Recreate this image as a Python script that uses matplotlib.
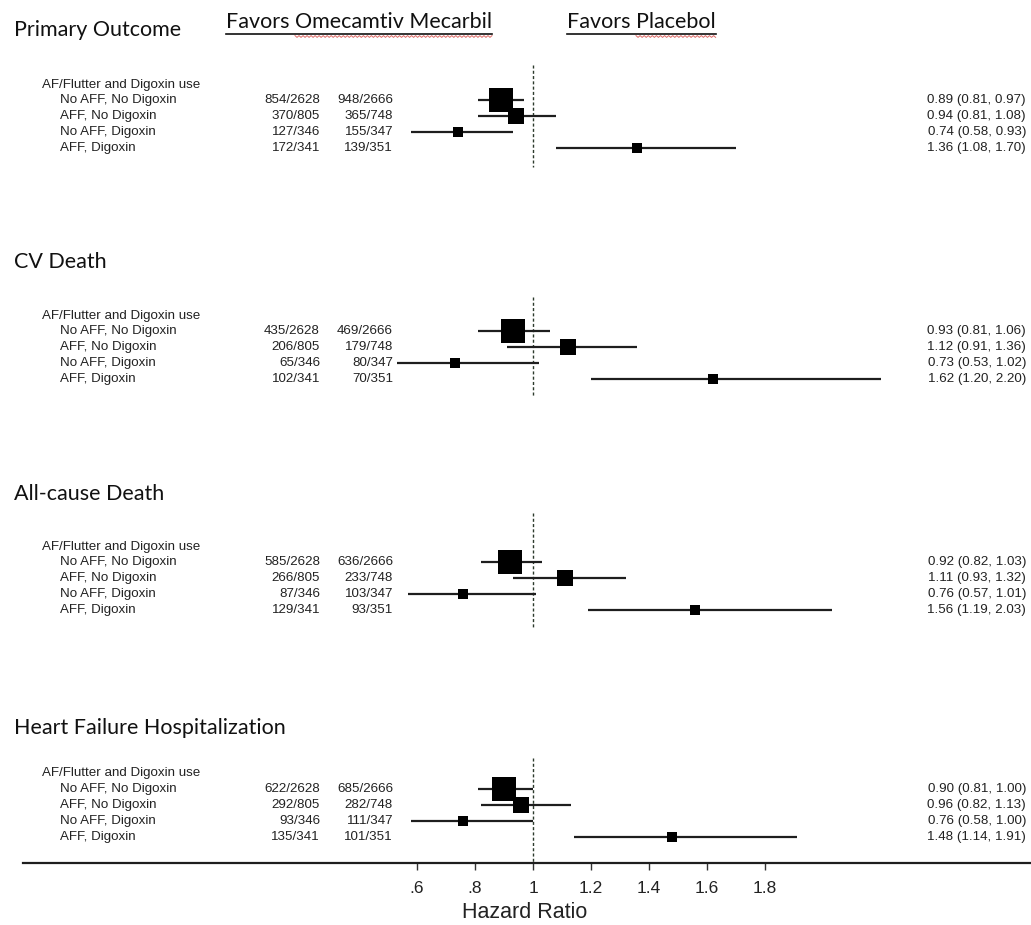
import numpy as np
import matplotlib
matplotlib.use("Agg")
import matplotlib.pyplot as plt
from matplotlib import transforms

# outcomes and AF/flutter x digoxin subgroups
outcomes = ["Primary Outcome", "CV Death", "All-cause Death", "Heart Failure Hospitalization"]
subgroups = ["No AFF, No Digoxin", "AFF, No Digoxin", "No AFF, Digoxin", "AFF, Digoxin"]
header = "AF/Flutter and Digoxin use"

n_om = [2628, 805, 346, 341]
n_pl = [2666, 748, 347, 351]

events_om = [
    [854, 370, 127, 172],
    [435, 206, 65, 102],
    [585, 266, 87, 129],
    [622, 292, 93, 135],
]
events_pl = [
    [948, 365, 155, 139],
    [469, 179, 80, 70],
    [636, 233, 103, 93],
    [685, 282, 111, 101],
]

hr = [
    [0.89, 0.94, 0.74, 1.36],
    [0.93, 1.12, 0.73, 1.62],
    [0.92, 1.11, 0.76, 1.56],
    [0.90, 0.96, 0.76, 1.48],
]
hr_lo = [
    [0.81, 0.81, 0.58, 1.08],
    [0.81, 0.91, 0.53, 1.20],
    [0.82, 0.93, 0.57, 1.19],
    [0.81, 0.82, 0.58, 1.14],
]
hr_hi = [
    [0.97, 1.08, 0.93, 1.70],
    [1.06, 1.36, 1.02, 2.20],
    [1.03, 1.32, 1.01, 2.03],
    [1.00, 1.13, 1.00, 1.91],
]

xticks = [0.6, 0.8, 1.0, 1.2, 1.4, 1.6, 1.8]
xtick_labels = [".6", ".8", "1", "1.2", "1.4", "1.6", "1.8"]

# page layout (pixels from the top-left corner)
W, H = 1031, 925
x_null, px_per_unit = 533, 290
title_y = [30, 262, 494, 728]
header_y = [85, 316, 547, 773]
first_row_y = [100, 331, 562, 789]
row_step = 16
ref_span = [(65, 167), (297, 396), (513, 628), (758, 863)]
axis_y = 863

TITLE_FONT = ["Lato", "DejaVu Sans"]
TITLE_SIZE = 15.5
BODY_FONT = ["Liberation Sans", "DejaVu Sans"]

fig = plt.figure(figsize=(W / 100, H / 100), dpi=100)
ax = fig.add_axes([0, 0, 1, 1])
ax.set_xlim(1 - x_null / px_per_unit, 1 + (W - x_null) / px_per_unit)
ax.set_ylim(H, 0)
trans = transforms.blended_transform_factory(ax.transAxes, ax.transData)


def fx(px):
    return px / W


for k, name in enumerate(outcomes):
    ax.text(fx(14), title_y[k], name, transform=trans, family=TITLE_FONT,
            fontsize=TITLE_SIZE, va="center", ha="left", color="#111")
    ax.text(fx(42), header_y[k], header, transform=trans, family=BODY_FONT,
            fontsize=9.6, va="center", ha="left", color="#222")

    ys = first_row_y[k] + row_step * np.arange(len(subgroups))
    est = np.array(hr[k])
    lo = np.array(hr_lo[k])
    hi = np.array(hr_hi[k])

    # square area follows the inverse variance of log HR
    se = (np.log(hi) - np.log(lo)) / (2 * 1.96)
    w = 1 / se ** 2
    side_px = np.maximum(24 * np.sqrt(w / w.max()), 9)

    ax.vlines(1.0, *ref_span[k], colors="#2c3a2c", linewidth=1.0,
              linestyles=(0, (2.2, 1.6)), zorder=1)

    for i, sg in enumerate(subgroups):
        y = ys[i]
        ax.text(fx(60), y, sg, transform=trans, family=BODY_FONT,
                fontsize=9.6, va="center", ha="left", color="#222")
        ax.text(fx(320), y, f"{events_om[k][i]}/{n_om[i]}", transform=trans,
                family=BODY_FONT, fontsize=9.6, va="center", ha="right", color="#222")
        ax.text(fx(393), y, f"{events_pl[k][i]}/{n_pl[i]}", transform=trans,
                family=BODY_FONT, fontsize=9.6, va="center", ha="right", color="#222")
        ax.text(fx(1026), y, f"{est[i]:.2f} ({lo[i]:.2f}, {hi[i]:.2f})",
                transform=trans, family=BODY_FONT, fontsize=9.6,
                va="center", ha="right", color="#222")
        ax.plot([lo[i], hi[i]], [y, y], color="#1e1e1e", linewidth=1.6,
                solid_capstyle="butt", zorder=2)
        ax.plot(est[i], y, marker="s", markersize=side_px[i] * 0.72,
                color="black", markeredgewidth=0, zorder=3)

# direction headings, underlined, with the spell-check squiggle
fig.canvas.draw()
renderer = fig.canvas.get_renderer()
inv = ax.transData.inverted()


def heading(x0, text, squiggle_from):
    t = ax.text(fx(x0), 22, text, transform=trans, family=TITLE_FONT,
                fontsize=TITLE_SIZE, va="center", ha="left", color="#111")
    bb = t.get_window_extent(renderer)
    pre = ax.text(fx(x0), 22, text[:squiggle_from], transform=trans,
                  family=TITLE_FONT, fontsize=TITLE_SIZE, va="center", ha="left")
    pbb = pre.get_window_extent(renderer)
    pre.remove()
    x_start = inv.transform((bb.x0, 0))[0]
    x_end = inv.transform((bb.x1, 0))[0]
    x_sq = inv.transform((pbb.x1, 0))[0]
    ax.plot([x_start, x_end], [34, 34], color="#111", linewidth=1.2)
    xs = np.linspace(x_sq, x_end, int((x_end - x_sq) * px_per_unit / 2) + 1)
    ys = 36.5 + np.where(np.arange(len(xs)) % 2 == 0, -0.9, 0.9)
    ax.plot(xs, ys, color="#d9534f", linewidth=0.7, alpha=0.85)


heading(226, "Favors Omecamtiv Mecarbil", len("Favors "))
heading(567, "Favors Placebol", len("Favors "))

# hazard ratio axis
for side in ["top", "left", "right"]:
    ax.spines[side].set_visible(False)
ax.spines["bottom"].set_position(("data", axis_y))
ax.spines["bottom"].set_bounds(1 + (23 - x_null) / px_per_unit, ax.get_xlim()[1])
ax.spines["bottom"].set_linewidth(1.6)
ax.spines["bottom"].set_color("#1e1e1e")
ax.set_yticks([])
ax.set_xticks(xticks)
ax.set_xticklabels(xtick_labels, family=BODY_FONT, fontsize=12.5, color="#222")
ax.tick_params(axis="x", direction="out", length=5, width=1.0, pad=8, color="#333")
ax.set_xlabel("Hazard Ratio", family=BODY_FONT, fontsize=15.5, color="#222")
ax.xaxis.set_label_coords(fx(525), 1 - 913 / H)
ax.xaxis.label.set_va("center")

fig.savefig("out.png", dpi=100, facecolor="white")
